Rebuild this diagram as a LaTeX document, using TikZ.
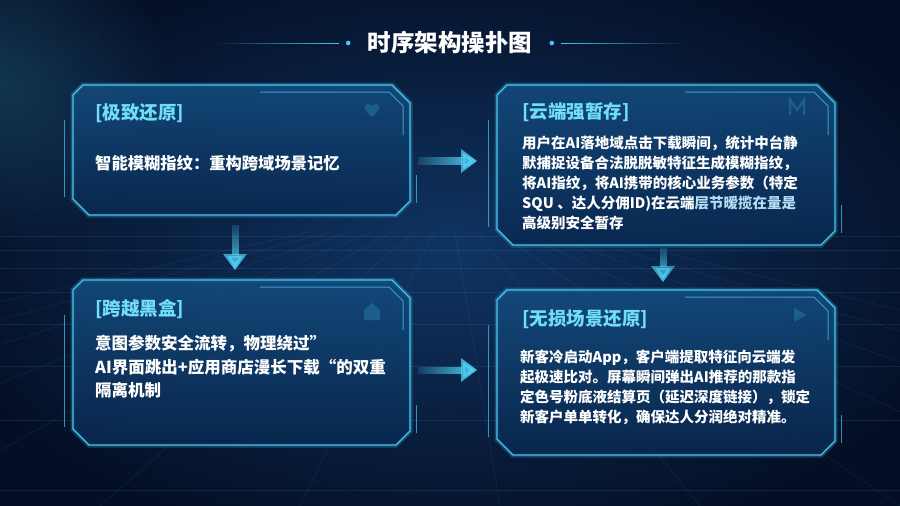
\documentclass[tikz,border=0pt]{standalone}
\usepackage{fontspec}
\newfontfamily\cjk{Noto Sans CJK SC}
\usetikzlibrary{arrows.meta,positioning,fadings}

\definecolor{bgdark}{RGB}{4,14,36}
\definecolor{bglight}{RGB}{16,52,98}
\definecolor{glow}{RGB}{70,200,240}
\definecolor{arrowcol}{RGB}{80,212,248}
\definecolor{panelhi}{RGB}{20,76,126}
\definecolor{panello}{RGB}{9,40,80}
\definecolor{headcol}{RGB}{112,222,246}
\definecolor{dimtext}{RGB}{178,222,245}

\tikzfading[name=fadeleft, left color=transparent!90, right color=transparent!0]
\tikzfading[name=fadetop, top color=transparent!90, bottom color=transparent!0]
\tikzfading[name=fadeout, inner color=transparent!40, outer color=transparent!100]
\tikzfading[name=lineleft, left color=transparent!100, right color=transparent!0]
\tikzfading[name=lineright, left color=transparent!0, right color=transparent!100]

% chamfered outline of a panel node
\newcommand{\chamf}[1]{([xshift=10pt]#1.north west) -- ([xshift=-18pt]#1.north east)
  -- ([yshift=-18pt]#1.north east) -- ([yshift=14pt]#1.south east)
  -- ([xshift=-14pt]#1.south east) -- ([xshift=16pt]#1.south west)
  -- ([yshift=16pt]#1.south west) -- ([yshift=-10pt]#1.north west) -- cycle}

\begin{document}
\begin{tikzpicture}[x=1pt,y=-1pt,
  box/.style={rectangle,inner sep=0pt,outer sep=0pt},
  frame/.style={draw=glow,line width=1.1pt,top color=panelhi,bottom color=panello,fill opacity=0.88},
  halo/.style={draw=glow,line width=5pt,draw opacity=0.25},
  deco/.style={draw=glow,line width=1pt,opacity=0.7},
  icon/.style={fill=glow,opacity=0.22},
  head/.style={font=\cjk\bfseries\fontsize{18.5}{22}\selectfont,text=headcol,inner sep=0pt,anchor=west},
  body/.style={font=\cjk\bfseries\fontsize{14.5}{20}\selectfont,text=white,inner sep=0pt,anchor=north west,align=left},
  flow/.style={-{Triangle[length=16pt,width=23pt]},line width=7pt,draw=arrowcol},
  grid/.style={draw=glow,line width=0.5pt,opacity=0.12}]

 \path[use as bounding box] (0,0) rectangle (900,506);
 \clip (0,0) rectangle (900,506);
 \fill[inner color=bglight,outer color=bgdark] (-100,-60) rectangle (1000,560);
 \fill[glow,path fading=fadeout,opacity=0.35] (0,80) circle (170pt);

 % floor grid
 \begin{scope}
  \clip (0,232) rectangle (900,506);
  \foreach \gx in {-900,-700,...,1800}
   \draw[grid] (450,200) -- (\gx,506);
  \foreach \gy in {236,250,268,292,324,366,420,490}
   \draw[grid] (0,\gy) -- (900,\gy);
 \end{scope}

 % title
 \node[font=\cjk\bfseries\fontsize{23.5}{26}\selectfont,text=white] (title) at (450,43) {时序架构操扑图};
 \fill[glow] ([xshift=-16pt]title.west) circle (2.3pt);
 \fill[glow] ([xshift=16pt]title.east) circle (2.3pt);
 \draw[glow,line width=1pt,path fading=lineleft] ([xshift=-25pt]title.west) -- ++(-125,0);
 \draw[glow,line width=1pt,path fading=lineright] ([xshift=25pt]title.east) -- ++(125,0);

 % panels
 \node[box,minimum width=337pt,minimum height=130pt] (p1) at (241.5,150) {};
 \node[box,minimum width=338pt,minimum height=160pt,below right=0pt and 87pt of p1.north east,anchor=north west] (p2) {};
 \node[box,minimum width=337pt,minimum height=165pt,below=65pt of p1.south west,anchor=north west] (p3) {};
 \node[box,minimum width=338pt,minimum height=165pt,below=45pt of p2.south west,anchor=north west] (p4) {};

 \foreach \p in {p1,p2,p3,p4}{
  \path[halo] \chamf{\p};
  \path[frame] \chamf{\p};
  \draw[deco] ([xshift=-9pt,yshift=-35pt]\p.north west) -- ([xshift=-9pt,yshift=18pt]\p.south west);
  \draw[deco] ([xshift=-150pt,yshift=-7pt]\p.north east) -- ([xshift=-21pt,yshift=-7pt]\p.north east)
              -- ([xshift=-7pt,yshift=-21pt]\p.north east) -- ([xshift=-7pt,yshift=-50pt]\p.north east);
  \draw[deco] ([xshift=6pt,yshift=40pt]\p.south east) -- ([xshift=6pt,yshift=12pt]\p.south east);
 }

 % faint icons
 \fill[icon,shift={(372,110)}] (0,7) .. controls (-12,-2) and (-7,-10) .. (0,-4)
       .. controls (7,-10) and (12,-2) .. (0,7) -- cycle;
 \draw[icon,fill=none,draw=glow,line width=2.5pt,shift={(797,107)}] (-7,8) -- (-7,-7) -- (0,3) -- (7,-7) -- (7,8);
 \fill[icon,shift={(372,312)}] (-8,8) -- (-8,-2) -- (0,-9) -- (8,-2) -- (8,8) -- cycle;
 \fill[icon,shift={(800,315)}] (-6,-7) -- (7,0) -- (-6,7) -- cycle;

 % texts
 \node[head] (t1) at ([xshift=22pt,yshift=-28pt]p1.north west) {[极致还原]};
 \node[body,font=\cjk\bfseries\fontsize{16.3}{22}\selectfont] (b1) at ([xshift=22pt,yshift=-70pt]p1.north west)
   {智能模糊指纹：重构跨域场景记忆};

 \node[head] (t2) at ([xshift=25pt,yshift=-27pt]p2.north west) {[云端强暂存]};
 \node[body] (b2) at ([xshift=25pt,yshift=-51pt]p2.north west)
   {用户在AI落地域点击下载瞬间，统计中台静\\
    默捕捉设备合法脱脱敏特征生成模糊指纹，\\
    将AI指纹，将AI携带的核心业务参数（特定\\
    SQU 、达人分佣ID)在云端{\color{dimtext}层节暧揽在量是}\\
    高级别安全暂存};

 \node[head] (t3) at ([xshift=22pt,yshift=-29pt]p3.north west) {[跨越黑盒]};
 \node[body,font=\cjk\bfseries\fontsize{16.5}{23.5}\selectfont] (b3) at ([xshift=22pt,yshift=-55pt]p3.north west)
   {意图参数安全流转，物理绕过”\\
    AI界面跳出+应用商店漫长下载“的双重\\
    隔离机制};

 \node[head] (t4) at ([xshift=25pt,yshift=-29pt]p4.north west) {[无损场景还原]};
 \node[body] (b4) at ([xshift=23pt,yshift=-60pt]p4.north west)
   {新客冷启动App，客户端提取特征向云端发\\
    起极速比对。屏幕瞬间弹出AI推荐的那款指\\
    定色号粉底液结算页（延迟深度链接），锁定\\
    新客户单单转化，确保达人分润绝对精准。};

 % flow arrows (leading move-tos give the fading a box with some width)
 \draw[flow,path fading=fadeleft] ([xshift=8pt,yshift=1pt]p1.east) ([xshift=-20pt,yshift=-23pt]p1.east -| p2.west)
       ([xshift=8pt,yshift=-11pt]p1.east) -- ([xshift=-20pt,yshift=-11pt]p1.east -| p2.west);
 \draw[flow,path fading=fadeleft] ([xshift=8pt,yshift=4.5pt]p3.east) ([xshift=-20pt,yshift=-19.5pt]p3.east -| p4.west)
       ([xshift=8pt,yshift=-7.5pt]p3.east) -- ([xshift=-20pt,yshift=-7.5pt]p3.east -| p4.west);
 \draw[flow,path fading=fadetop] ([xshift=-18.5pt,yshift=-10pt]p1.south) ([xshift=5.5pt,yshift=10pt]p3.north)
       ([xshift=-6.5pt,yshift=-10pt]p1.south) -- ([xshift=-6.5pt,yshift=10pt]p3.north);
 \draw[flow,path fading=fadetop] ([xshift=-15pt,yshift=-3pt]p2.south) ([xshift=9pt,yshift=8pt]p4.north)
       ([xshift=-3pt,yshift=-3pt]p2.south) -- ([xshift=-3pt,yshift=8pt]p4.north);
\end{tikzpicture}
\end{document}
